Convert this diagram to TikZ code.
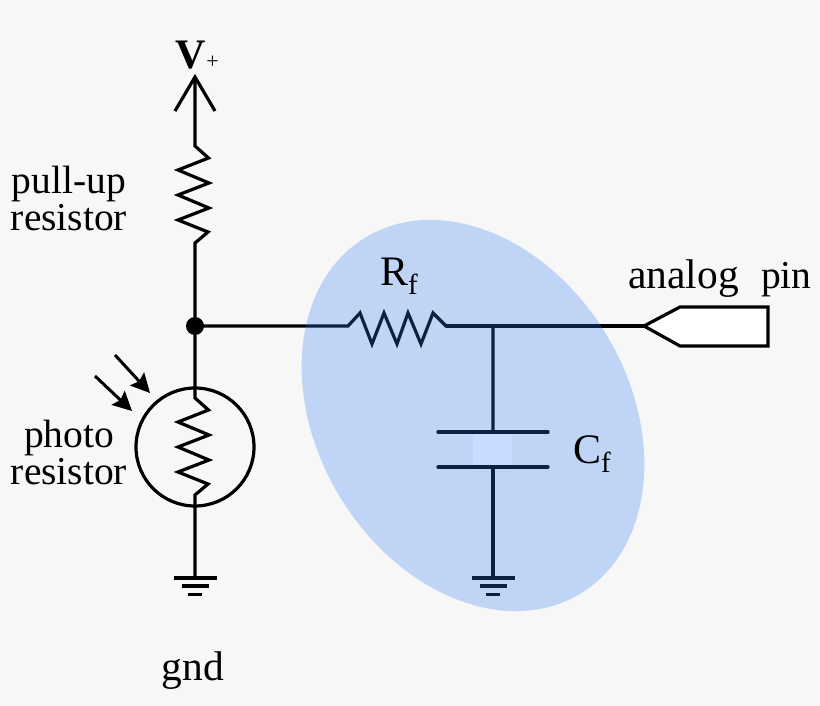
\documentclass[tikz,border=0pt]{standalone}
\usepackage{fontspec}
\setmainfont{Liberation Serif}
\usetikzlibrary{arrows.meta,shapes.geometric}
\definecolor{bgcol}{HTML}{F7F7F7}
\definecolor{blobcol}{RGB}{44,122,244}
\definecolor{gapcol}{HTML}{C8DCFF}
\newcommand{\subf}{\raisebox{-0.22em}{\fontsize{29}{29}\selectfont f}}
\tikzset{
    wire/.style={line width=3.2pt,line join=miter},
    gndline/.style={line width=3.2pt},
    label/.style={inner sep=0pt,font=\fontsize{39.5}{37}\selectfont,align=center},
    widelabel/.style={inner sep=0pt,font=\fontsize{41.5}{41.5}\selectfont},
    symlabel/.style={inner sep=0pt,anchor=base west,font=\fontsize{42}{42}\selectfont},
    lightray/.style={line width=3pt,-{Stealth[length=19pt,width=19pt,inset=3pt]}},
}
\begin{document}
\begin{tikzpicture}[x=1pt,y=-1pt]
    \useasboundingbox (0,0) rectangle (820,706);
    \fill[bgcol] (0,0) rectangle (820,706);

    % Zickzack der Widerstaende
    \def\zigv{-- ++(13.5,12) -- ++(-30.5,12) -- ++(31,13) -- ++(-31,12) -- ++(31,13) -- ++(-31,12) -- ++(30,12) -- ++(-13,11)}
    \def\zigh{-- ++(12,-13) -- ++(12,31) -- ++(12,-31) -- ++(13,31) -- ++(11,-31) -- ++(13,31) -- ++(12,-31) -- ++(13,13)}

    % Knotenpunkte
    \coordinate (vtip) at (195,77);
    \coordinate (pulltop) at (195,146);
    \coordinate (pullend) at (195,243);
    \coordinate (phototop) at (195,398);
    \coordinate (photoend) at (195,497);
    \coordinate (rftop) at (348,326);
    \coordinate (rfend) at (446,326);
    \coordinate (tee) at (493,326);
    \coordinate (platetop) at (493,432);
    \coordinate (platebot) at (493,467);
    \coordinate (gndl) at (195,578);
    \coordinate (gndr) at (493,578);
    \node[circle,fill=black,inner sep=0pt,minimum size=18pt] (junction) at (195,326) {};
    \node[circle,draw,line width=3.2pt,inner sep=0pt,minimum size=118pt] (photo) at (195,447) {};

    % Leitungen
    \draw[wire] (vtip) -- (pulltop) \zigv -- (junction.center);
    \draw[wire] ([shift={(-20,34)}]vtip) -- (vtip) -- ([shift={(20,34)}]vtip);
    \draw[wire] (junction.center) -- (phototop) \zigv -- (gndl);
    \draw[wire] (junction.center) -- (rftop) \zigh -- (tee) -- (platetop);
    \draw[wire] (rfend) -- (644,326);
    \draw[wire] (platebot) -- (gndr);

    % Kondensator
    \foreach \p in {platetop,platebot} {
        \draw[gndline,line cap=round] ([xshift=-55pt]\p) -- ([xshift=55pt]\p);
    }

    % Masse
    \foreach \g in {gndl,gndr} {
        \foreach \w/\d in {21.5/0,13.5/8,7/16.5} {
            \draw[gndline] ([shift={(-\w,\d)}]\g) -- ([shift={(\w,\d)}]\g);
        }
    }

    % Filter-Bereich
    \node[ellipse,fill=blobcol,fill opacity=0.27,inner sep=0pt,minimum width=416pt,minimum height=312pt,rotate=-59] (filter) at (473,415.5) {};
    \fill[gapcol] (473,434) rectangle (512,465);

    % Pin
    \draw[wire,fill=white] (644,326) -- (680,307) -- (768,307) -- (768,346) -- (680,346) -- cycle;

    % Lichtpfeile
    \coordinate (raya) at (115,355);
    \coordinate (rayb) at (95,376);
    \draw[lightray] (raya) -- (150,393);
    \draw[lightray] (rayb) -- (132,411);

    % Beschriftung
    \node[symlabel] (vlabel) at (175,69) {\textbf{V}};
    \node[inner sep=0pt,font=\fontsize{22}{22}\selectfont] (vplus) at (212.5,62) {+};
    \node[label] (pulllabel) at (69,198) {pull-up\\resistor};
    \node[label] (photolabel) at (69,452) {photo\\resistor};
    \node[widelabel,anchor=base] (gndlabel) at (193,680) {gnd};
    \node[widelabel,anchor=base west] (analoglabel) at (628,288) {analog};
    \node[label,anchor=base west] (pinlabel) at (761,288) {pin};
    \node[symlabel] (rflabel) at (380,285) {R\subf};
    \node[symlabel] (cflabel) at (573,463) {C\subf};
\end{tikzpicture}
\end{document}
